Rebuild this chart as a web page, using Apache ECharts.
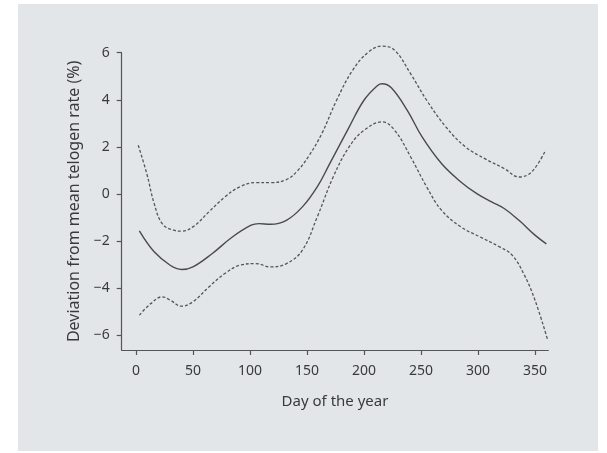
<!DOCTYPE html>
<html>
<head>
<meta charset="utf-8">
<script src="https://cdn.jsdelivr.net/npm/echarts@6/dist/echarts.min.js"></script>
<style>
html,body{margin:0;padding:0;background:#ffffff;}
#chart{width:607px;height:453px;}
</style>
</head>
<body>
<div id="chart"></div>
<script>
// Day of the year, estimate (solid), upper and lower bounds (dashed)
const estDays = [3, 16, 30, 40, 50, 67, 84, 101, 108, 118, 132, 146, 159, 170, 187, 200, 212, 216, 224, 238, 251, 268, 285, 299, 312, 323, 336, 350, 360];
const estVals = [-1.57, -2.46, -3.03, -3.21, -3.1, -2.53, -1.85, -1.33, -1.26, -1.29, -1.12, -0.55, 0.3, 1.29, 2.84, 3.98, 4.61, 4.68, 4.51, 3.55, 2.42, 1.29, 0.51, 0.01, -0.34, -0.62, -1.12, -1.75, -2.12];

const upDays = [2, 9.5, 16, 23, 33, 40, 50, 64, 78, 91, 105, 118, 132, 142, 152, 163, 176, 190, 204, 216, 227, 241, 255, 272, 289, 306, 323, 336, 347, 359];
const upVals = [2.07, 0.86, -0.41, -1.26, -1.54, -1.58, -1.4, -0.76, -0.13, 0.3, 0.48, 0.48, 0.61, 1.0, 1.64, 2.56, 3.98, 5.25, 6.03, 6.28, 6.1, 5.1, 3.98, 2.84, 2.0, 1.5, 1.08, 0.72, 0.93, 1.83];

const loDays = [3, 13, 23, 30, 40, 50, 64, 78, 91, 105, 118, 132, 146, 159, 173, 187, 200, 216, 227, 241, 255, 268, 285, 302, 319, 330, 340, 350, 361];
const loVals = [-5.15, -4.66, -4.37, -4.51, -4.77, -4.58, -3.95, -3.38, -3.03, -2.96, -3.1, -2.96, -2.39, -0.98, 0.72, 2.0, 2.7, 3.06, 2.7, 1.57, 0.3, -0.69, -1.4, -1.83, -2.25, -2.6, -3.38, -4.51, -6.18];

const xTicks = [0, 50, 100, 150, 200, 250, 300, 350];
const yTicks = [-6, -4, -2, 0, 2, 4, 6];

const zip = (a, b) => a.map((v, i) => [v, b[i]]);

const chart = echarts.init(document.getElementById('chart'), null, {renderer: 'canvas'});
const axisColor = '#555';
const textColor = '#3a3a3a';
const font = '"Noto Sans", "Open Sans", sans-serif';

chart.setOption({
  backgroundColor: '#ffffff',
  animation: false,
  graphic: [{
    type: 'rect', z: -10, silent: true,
    shape: {x: 18, y: 4, width: 580, height: 447},
    style: {fill: '#e3e6e9'}
  }],
  grid: {left: 121.7, right: 58.7, top: 52.7, bottom: 103, containLabel: false},
  xAxis: {
    type: 'value', min: -12.5, max: 361.7,
    name: 'Day of the year', nameLocation: 'middle', nameGap: 44,
    nameTextStyle: {fontSize: 15, color: textColor, fontFamily: font},
    axisLine: {show: true, onZero: false, lineStyle: {color: axisColor, width: 1.2}},
    axisTick: {show: true, length: 5, customValues: xTicks, lineStyle: {color: axisColor, width: 1.2}},
    axisLabel: {customValues: xTicks, margin: 14, fontSize: 14, color: textColor, fontFamily: font},
    splitLine: {show: false}
  },
  yAxis: {
    type: 'value', min: -6.63, max: 6,
    name: 'Deviation from mean telogen rate (%)', nameLocation: 'middle', nameGap: 35,
    nameTextStyle: {fontSize: 16, color: textColor, fontFamily: font},
    axisLine: {show: true, onZero: false, lineStyle: {color: axisColor, width: 1.2}},
    axisTick: {show: true, length: 5, customValues: yTicks, lineStyle: {color: axisColor, width: 1.2}},
    axisLabel: {customValues: yTicks, margin: 12, fontSize: 14, color: textColor, fontFamily: font,
      formatter: v => (v < 0 ? '\u2212' + Math.abs(v) : String(v))},
    splitLine: {show: false}
  },
  series: [
    {type: 'line', data: zip(estDays, estVals), smooth: 0.4, showSymbol: false, clip: false,
      lineStyle: {color: '#4a4a4a', width: 1.4}},
    {type: 'line', data: zip(upDays, upVals), smooth: 0.4, showSymbol: false, clip: false,
      lineStyle: {color: '#555', width: 1.3, type: [3, 2]}},
    {type: 'line', data: zip(loDays, loVals), smooth: 0.4, showSymbol: false, clip: false,
      lineStyle: {color: '#555', width: 1.3, type: [3, 2]}}
  ]
});
</script>
</body>
</html>
